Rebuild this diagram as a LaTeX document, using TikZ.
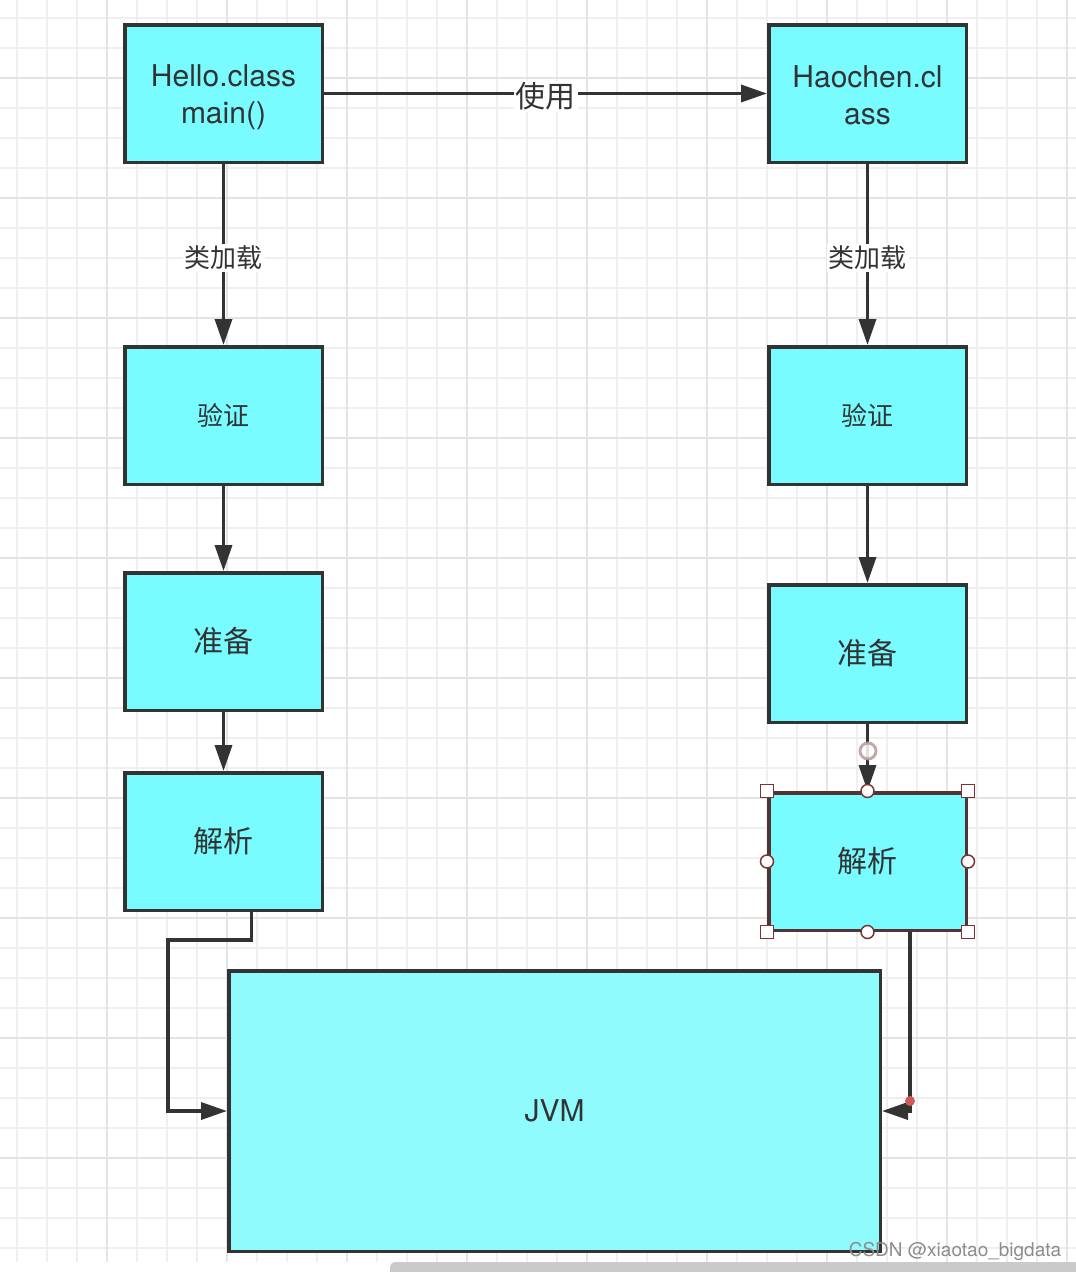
\documentclass[tikz,border=0pt]{standalone}
\usepackage{fontspec}
\setmainfont{TeX Gyre Heros}
\newfontfamily\cjk{Noto Sans CJK SC}
\usetikzlibrary{arrows.meta,positioning}

\definecolor{boxfill}{HTML}{78FCFF}
\definecolor{jvmfill}{HTML}{8FFBFD}
\definecolor{edgec}{HTML}{333333}
\definecolor{gridc}{HTML}{EFEFEF}
\definecolor{gridmaj}{HTML}{E4E4E4}
\definecolor{selc}{HTML}{7A3434}
\definecolor{dotc}{HTML}{D05A5A}
\definecolor{barc}{HTML}{CACACA}

\tikzset{
  box/.style={draw=edgec, fill=boxfill, line width=3.5pt, minimum width=197.5pt,
    minimum height=137.5pt, inner sep=0pt, text=edgec, align=center},
  latin/.style={font=\fontsize{30}{37}\selectfont},
  cjkbig/.style={font=\cjk\fontsize{30}{36}\selectfont},
  cjksmall/.style={font=\cjk\fontsize{26}{30}\selectfont},
  flow/.style={draw=edgec, line width=3.5pt, -{Triangle[length=26pt,width=17pt]}},
  lbl/.style={fill=white, text=edgec, inner sep=2pt, yshift=-3pt},
  handle/.style={draw=selc, fill=white, line width=1.5pt, minimum size=13pt, inner sep=0pt},
}

\begin{document}
\begin{tikzpicture}[x=1pt,y=-1pt]
\useasboundingbox (0,0) rectangle (1076,1272);

% grid paper
\foreach \x in {17,47,...,1067} \draw[gridc, line width=1.5pt] (\x,0) -- (\x,1262);
\foreach \y in {18,48,...,1248} \draw[gridc, line width=1.5pt] (0,\y) -- (1076,\y);
\foreach \x in {107,227,...,1067} \draw[gridmaj, line width=2pt] (\x,0) -- (\x,1262);
\foreach \y in {78,198,...,1158} \draw[gridmaj, line width=2pt] (0,\y) -- (1076,\y);

% left column
\node[box, latin] (hello) at (223.5,93.5) {\rule{0pt}{30pt}Hello.class\\main()};
\node[box, cjksmall] (yzL) at (223.5,415.5) {验证};
\node[box, cjkbig] (zbL) at (223.5,641.5) {准备};
\node[box, cjkbig] (jxL) at (223.5,841.5) {解析};

% right column
\node[box, latin] (haochen) at (867.5,93.5) {\rule{0pt}{26pt}Haochen.cl\\ass};
\node[box, cjksmall] (yzR) at (867.5,415.5) {验证};
\node[box, cjkbig] (zbR) at (867.5,653.5) {准备};
\node[box, cjkbig, draw=selc!45!edgec] (jxR) at (867.5,861.5) {解析};

\node[box, latin, fill=jvmfill, minimum width=651.5pt, minimum height=280.5pt] (jvm) at (554.5,1111) {JVM};

% connectors
\draw[flow] (hello.east) -- node[lbl, cjkbig, midway] {使用} (haochen.west);
\draw[flow] (hello.south) -- node[lbl, cjksmall, midway] {类加载} (yzL.north);
\draw[flow] (haochen.south) -- node[lbl, cjksmall, midway] {类加载} (yzR.north);
\draw[flow] (yzL) -- (zbL);
\draw[flow] (zbL) -- (jxL);
\draw[flow] (yzR) -- (zbR);
\draw[flow] (zbR) -- (jxR);
\draw[flow] ([xshift=28pt]jxL.south) -- ++(0,28) -| ([xshift=-59pt]jvm.west) -- (jvm.west);
\draw[flow] ([xshift=42.5pt]jxR.south) |- (jvm.east);

% selection marks
\draw[selc!50, line width=3pt, fill=white, opacity=0.85] (868,751) circle (8pt);
\foreach \a in {north west,north east,south west,south east}
  \node[handle, rectangle] at (jxR.\a) {};
\foreach \a in {north,south,west,east}
  \node[handle, circle] at (jxR.\a) {};
\fill[dotc] (910,1101) circle (5pt);

% page footer
\fill[barc, rounded corners=5pt] (390,1262) rectangle (1090,1282);
\node[text=gray!90, font=\fontsize{19}{19}\selectfont] (mark) at (955,1251) {CSDN @xiaotao\_bigdata};
\end{tikzpicture}
\end{document}
